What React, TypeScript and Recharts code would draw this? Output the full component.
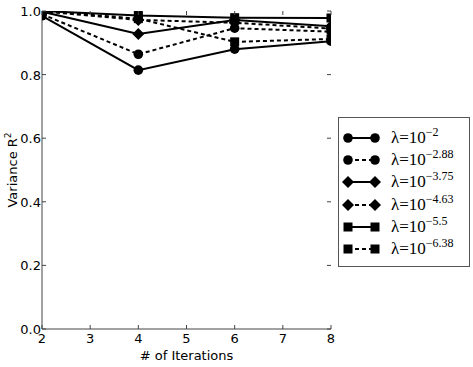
import React from "react";
import { LineChart, Line, XAxis, YAxis } from "recharts";

const iterations = [2, 4, 6, 8];
const lam2 = [0.985, 0.814, 0.88, 0.905];
const lam288 = [0.99, 0.864, 0.946, 0.935];
const lam375 = [0.998, 0.928, 0.972, 0.952];
const lam463 = [0.999, 0.972, 0.963, 0.945];
const lam55 = [1.0, 0.986, 0.979, 0.978];
const lam638 = [1.0, 0.976, 0.903, 0.912];

const xTicks = [2, 3, 4, 5, 6, 7, 8];
const yTicks = [0, 0.2, 0.4, 0.6, 0.8, 1.0];

type Marker = "circle" | "diamond" | "square";

const SERIES: { key: string; exp: string; values: number[]; marker: Marker; dashed: boolean }[] = [
  { key: "s1", exp: "\u22122", values: lam2, marker: "circle", dashed: false },
  { key: "s2", exp: "\u22122.88", values: lam288, marker: "circle", dashed: true },
  { key: "s3", exp: "\u22123.75", values: lam375, marker: "diamond", dashed: false },
  { key: "s4", exp: "\u22124.63", values: lam463, marker: "diamond", dashed: true },
  { key: "s5", exp: "\u22125.5", values: lam55, marker: "square", dashed: false },
  { key: "s6", exp: "\u22126.38", values: lam638, marker: "square", dashed: true },
];

const data = iterations.map((it, i) => {
  const row: Record<string, number> = { it };
  SERIES.forEach((s) => (row[s.key] = s.values[i]));
  return row;
});

const PLOT_LEFT = 42;
const PLOT_RIGHT = 331;
const PLOT_TOP = 11;
const PLOT_BOTTOM = 329;
const AXIS = "#444";
const SANS = "'DejaVu Sans', sans-serif";

function markerShape(m: Marker, cx: number, cy: number, key?: string) {
  if (m === "circle") return <circle key={key} cx={cx} cy={cy} r={4.8} fill="#000" />;
  if (m === "diamond")
    return (
      <polygon
        key={key}
        points={`${cx},${cy - 6} ${cx + 6},${cy} ${cx},${cy + 6} ${cx - 6},${cy}`}
        fill="#000"
      />
    );
  return <rect key={key} x={cx - 4.5} y={cy - 4.5} width={9} height={9} fill="#000" />;
}

// markers are clipped to the axes box, like the original
const makeDot = (m: Marker) => (props: any) => {
  const { cx, cy, index } = props;
  if (cx == null || cy == null) return <g key={index} />;
  return (
    <g key={index} clipPath="url(#plotClip)">
      {markerShape(m, cx, cy)}
    </g>
  );
};

const XTick = (props: any) => {
  const { x, payload } = props;
  return (
    <g>
      <line x1={x} x2={x} y1={PLOT_BOTTOM} y2={PLOT_BOTTOM - 4} stroke={AXIS} />
      <line x1={x} x2={x} y1={PLOT_TOP} y2={PLOT_TOP + 4} stroke={AXIS} />
      <text x={x} y={PLOT_BOTTOM + 14} textAnchor="middle" fontFamily={SANS} fontSize={13} fill="#000">
        {payload.value}
      </text>
    </g>
  );
};

const YTick = (props: any) => {
  const { y, payload } = props;
  return (
    <g>
      <line x1={PLOT_LEFT} x2={PLOT_LEFT + 4} y1={y} y2={y} stroke={AXIS} />
      <line x1={PLOT_RIGHT} x2={PLOT_RIGHT - 4} y1={y} y2={y} stroke={AXIS} />
      <text x={PLOT_LEFT - 1} y={y + 5} textAnchor="end" fontFamily={SANS} fontSize={13} fill="#000">
        {Number(payload.value).toFixed(1)}
      </text>
    </g>
  );
};

function LegendBox() {
  return (
    <div
      style={{
        position: "absolute",
        left: 338,
        top: 117,
        width: 132,
        border: "1px solid #555",
        background: "#fff",
        padding: "9px 0 6px 0",
        boxSizing: "border-box",
      }}
    >
      {SERIES.map((s) => (
        <div key={s.key} style={{ display: "flex", alignItems: "center", height: 22.2 }}>
          <svg width={48} height={16} style={{ flex: "none" }}>
            <line
              x1={9}
              x2={36}
              y1={8}
              y2={8}
              stroke="#000"
              strokeWidth={2}
              strokeDasharray={s.dashed ? "4 3" : undefined}
            />
            {markerShape(s.marker, 9, 8, "a")}
            {markerShape(s.marker, 36, 8, "b")}
          </svg>
          <span
            style={{
              fontFamily: "'Liberation Serif', serif",
              fontSize: 17,
              color: "#000",
              whiteSpace: "nowrap",
              marginLeft: 4,
              lineHeight: "16px",
            }}
          >
            λ=10
            <sup style={{ fontSize: 12, verticalAlign: "7px", lineHeight: 0 }}>{s.exp}</sup>
          </span>
        </div>
      ))}
    </div>
  );
}

export default function App() {
  return (
    <div style={{ position: "absolute", left: 0, top: 0, width: 473, height: 367, background: "#fff" }}>
      <LineChart
        width={473}
        height={367}
        data={data}
        margin={{ top: PLOT_TOP, right: 473 - PLOT_RIGHT, bottom: 0, left: 0 }}
      >
        <defs>
          <clipPath id="plotClip">
            <rect x={PLOT_LEFT} y={PLOT_TOP} width={PLOT_RIGHT - PLOT_LEFT} height={PLOT_BOTTOM - PLOT_TOP} />
          </clipPath>
        </defs>
        <XAxis
          dataKey="it"
          type="number"
          domain={[2, 8]}
          ticks={xTicks}
          allowDataOverflow
          axisLine={{ stroke: AXIS }}
          tickLine={false}
          tick={<XTick />}
          height={367 - PLOT_BOTTOM}
        />
        <XAxis
          xAxisId="top"
          orientation="top"
          dataKey="it"
          type="number"
          domain={[2, 8]}
          axisLine={{ stroke: AXIS }}
          tick={false}
          tickLine={false}
          height={0}
        />
        <YAxis
          type="number"
          domain={[0, 1]}
          ticks={yTicks}
          allowDataOverflow
          axisLine={{ stroke: AXIS }}
          tickLine={false}
          tick={<YTick />}
          width={PLOT_LEFT}
        />
        <YAxis
          yAxisId="right"
          orientation="right"
          type="number"
          domain={[0, 1]}
          axisLine={{ stroke: AXIS }}
          tick={false}
          tickLine={false}
          width={0}
        />
        {SERIES.map((s) => (
          <Line
            key={s.key}
            dataKey={s.key}
            type="linear"
            stroke="#000"
            strokeWidth={2}
            strokeDasharray={s.dashed ? "4 3" : undefined}
            dot={makeDot(s.marker)}
            activeDot={false}
            isAnimationActive={false}
          />
        ))}
        <text
          x={(PLOT_LEFT + PLOT_RIGHT) / 2}
          y={360}
          textAnchor="middle"
          fontFamily={SANS}
          fontSize={13}
          fill="#000"
        >
          # of Iterations
        </text>
        <text
          x={17}
          y={(PLOT_TOP + PLOT_BOTTOM) / 2}
          textAnchor="middle"
          fontFamily={SANS}
          fontSize={13}
          fill="#000"
          transform={`rotate(-90 17 ${(PLOT_TOP + PLOT_BOTTOM) / 2})`}
        >
          Variance R<tspan fontSize={9} dy={-6}>2</tspan>
        </text>
      </LineChart>
      <LegendBox />
    </div>
  );
}
